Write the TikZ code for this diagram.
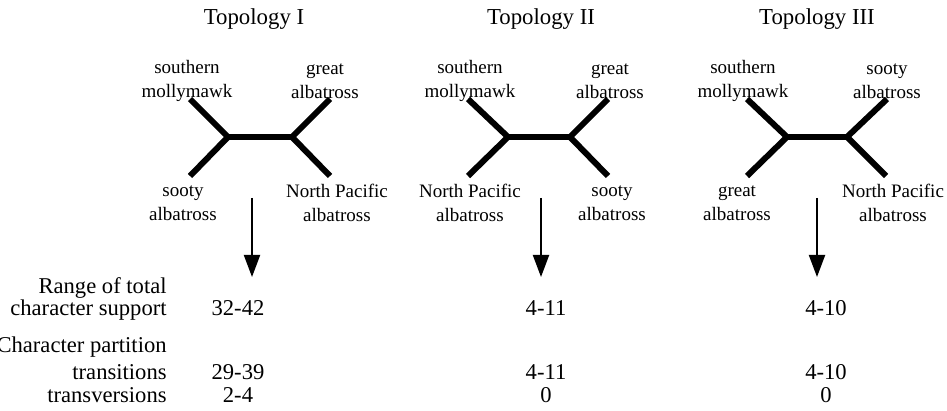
\documentclass[tikz,border=0pt]{standalone}
\usepackage{fontspec}
\setmainfont{Liberation Serif}
\usetikzlibrary{arrows.meta}

\begin{document}
\begin{tikzpicture}[x=0.5pt,y=-0.5pt,
    branch/.style={line width=3pt},
    leaf/.style={align=center,font=\fontsize{9.5}{12}\selectfont},
    title/.style={anchor=base,font=\fontsize{11.4}{14}\selectfont},
    rowlabel/.style={anchor=base east,inner sep=0pt,font=\fontsize{11.3}{14}\selectfont},
    value/.style={anchor=base,font=\fontsize{11.3}{14}\selectfont},
    down/.style={line width=1pt,-{Triangle[width=8pt,length=11pt]}}]
    \useasboundingbox (0,0) rectangle (947,411);

    % Topology I
    \node[title] (tI) at (254,25) {Topology I};
    \coordinate (lI) at (228,137);
    \coordinate (rI) at (292,137);
    \coordinate (ulI) at (190,99);
    \coordinate (urI) at (330,99);
    \coordinate (llI) at (190,176);
    \coordinate (lrI) at (330,176);
    \draw[branch] (ulI) -- (lI) -- (llI);
    \draw[branch] (urI) -- (rI) -- (lrI);
    \draw[branch] (lI) -- (rI);
    \node[leaf] (smI) at (187,81) {southern\\mollymawk};
    \node[leaf] (gaI) at (325,81) {great\\albatross};
    \node[leaf] (saI) at (183,203) {sooty\\albatross};
    \node[leaf] (npI) at (337,203) {North Pacific\\albatross};
    \coordinate (aI) at (252,198);
    \coordinate (bI) at (252,277);
    \draw[down] (aI) -- (bI);

    % Topology II
    \node[title] (tII) at (541,25) {Topology II};
    \coordinate (lII) at (508,137);
    \coordinate (rII) at (570,137);
    \coordinate (ulII) at (468,99);
    \coordinate (urII) at (608,99);
    \coordinate (llII) at (468,176);
    \coordinate (lrII) at (608,176);
    \draw[branch] (ulII) -- (lII) -- (llII);
    \draw[branch] (urII) -- (rII) -- (lrII);
    \draw[branch] (lII) -- (rII);
    \node[leaf] (smII) at (470,81) {southern\\mollymawk};
    \node[leaf] (gaII) at (610,81) {great\\albatross};
    \node[leaf] (npII) at (470,203) {North Pacific\\albatross};
    \node[leaf] (saII) at (612,203) {sooty\\albatross};
    \coordinate (aII) at (541,198);
    \coordinate (bII) at (541,277);
    \draw[down] (aII) -- (bII);

    % Topology III
    \node[title] (tIII) at (817,25) {Topology III};
    \coordinate (lIII) at (787,137);
    \coordinate (rIII) at (847,137);
    \coordinate (ulIII) at (747,99);
    \coordinate (urIII) at (887,99);
    \coordinate (llIII) at (747,176);
    \coordinate (lrIII) at (886,176);
    \draw[branch] (ulIII) -- (lIII) -- (llIII);
    \draw[branch] (urIII) -- (rIII) -- (lrIII);
    \draw[branch] (lIII) -- (rIII);
    \node[leaf] (smIII) at (743,81) {southern\\mollymawk};
    \node[leaf] (saIII) at (887,81) {sooty\\albatross};
    \node[leaf] (gaIII) at (737,203) {great\\albatross};
    \node[leaf] (npIII) at (893,203) {North Pacific\\albatross};
    \coordinate (aIII) at (817,198);
    \coordinate (bIII) at (817,277);
    \draw[down] (aIII) -- (bIII);

    % support table
    \node[rowlabel] (r1) at (167,293) {Range of total};
    \node[rowlabel] (r2) at (167,315) {character support};
    \node[rowlabel] (r3) at (167,352) {Character partition};
    \node[rowlabel] (r4) at (167,379) {transitions};
    \node[rowlabel] (r5) at (167,402) {transversions};
    \node[value] (vI1) at (238,315) {32-42};
    \node[value] (vI2) at (238,379) {29-39};
    \node[value] (vI3) at (238,402) {2-4};
    \node[value] (vII1) at (546,315) {4-11};
    \node[value] (vII2) at (546,379) {4-11};
    \node[value] (vII3) at (546,402) {0};
    \node[value] (vIII1) at (826,315) {4-10};
    \node[value] (vIII2) at (826,379) {4-10};
    \node[value] (vIII3) at (826,402) {0};
\end{tikzpicture}
\end{document}
